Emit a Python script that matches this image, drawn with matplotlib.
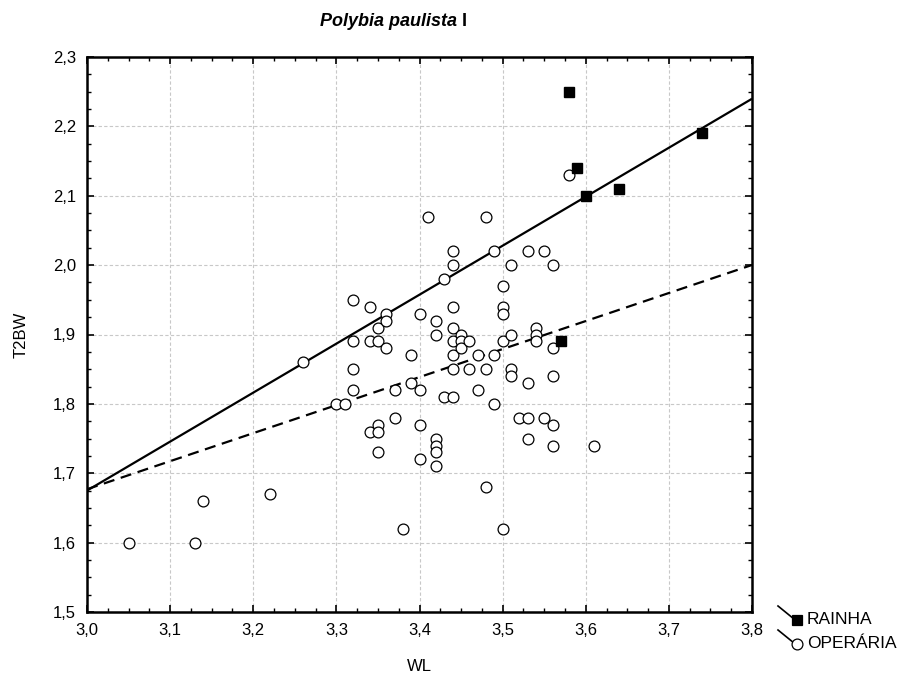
import numpy as np
import matplotlib
matplotlib.use("Agg")
import matplotlib.pyplot as plt
from matplotlib.ticker import MultipleLocator, FuncFormatter
from matplotlib.lines import Line2D

plt.rcParams['font.family'] = ['Liberation Sans', 'DejaVu Sans']

# Workers (OPERÁRIA): wing length (WL) vs T2BW
wl_operaria = [3.05, 3.13, 3.14, 3.22, 3.26, 3.30, 3.31, 3.32, 3.32, 3.32, 3.32,
               3.34, 3.34, 3.34, 3.35, 3.35, 3.35, 3.35, 3.35, 3.36, 3.36, 3.36,
               3.37, 3.37, 3.38, 3.39, 3.39, 3.40, 3.40, 3.40, 3.40, 3.41, 3.42,
               3.42, 3.42, 3.42, 3.42, 3.42, 3.43, 3.43, 3.44, 3.44, 3.44, 3.44,
               3.44, 3.44, 3.44, 3.44, 3.45, 3.45, 3.45, 3.46, 3.46, 3.47, 3.47,
               3.48, 3.48, 3.48, 3.49, 3.49, 3.49, 3.50, 3.50, 3.50, 3.50, 3.50,
               3.51, 3.51, 3.51, 3.51, 3.52, 3.53, 3.53, 3.53, 3.53, 3.54, 3.54,
               3.54, 3.55, 3.55, 3.56, 3.56, 3.56, 3.56, 3.56, 3.58, 3.61]
t2bw_operaria = [1.60, 1.60, 1.66, 1.67, 1.86, 1.80, 1.80, 1.95, 1.89, 1.85, 1.82,
                 1.94, 1.89, 1.76, 1.91, 1.89, 1.77, 1.76, 1.73, 1.93, 1.92, 1.88,
                 1.82, 1.78, 1.62, 1.87, 1.83, 1.93, 1.82, 1.77, 1.72, 2.07, 1.92,
                 1.90, 1.75, 1.74, 1.73, 1.71, 1.98, 1.81, 2.02, 2.00, 1.94, 1.91,
                 1.89, 1.87, 1.85, 1.81, 1.90, 1.89, 1.88, 1.89, 1.85, 1.87, 1.82,
                 2.07, 1.85, 1.68, 2.02, 1.87, 1.80, 1.97, 1.94, 1.93, 1.89, 1.62,
                 2.00, 1.90, 1.85, 1.84, 1.78, 2.02, 1.83, 1.78, 1.75, 1.91, 1.90,
                 1.89, 2.02, 1.78, 2.00, 1.88, 1.84, 1.77, 1.74, 2.13, 1.74]

# Queens (RAINHA)
wl_rainha = [3.57, 3.58, 3.59, 3.60, 3.64, 3.74]
t2bw_rainha = [1.89, 2.25, 2.14, 2.10, 2.11, 2.19]

# Regression lines: (intercept at WL = 3.0, slope)
fit_solid = (1.675, 0.706)
fit_dashed = (1.677, 0.404)

x_range = (3.0, 3.8)
y_range = (1.5, 2.3)

W, H = 923, 684
fig = plt.figure(figsize=(W / 100, H / 100), dpi=100)
ax = fig.add_axes([87 / W, 1 - 612 / H, (752 - 87) / W, (612 - 57) / H])

xs = np.array(x_range)
ax.plot(xs, fit_solid[0] + fit_solid[1] * (xs - 3.0), color='black', lw=1.6,
        solid_capstyle='butt', zorder=2)
ax.plot(xs, fit_dashed[0] + fit_dashed[1] * (xs - 3.0), color='black', lw=1.6,
        dashes=(5, 3), zorder=2)

ax.plot(wl_operaria, t2bw_operaria, linestyle='none', marker='o', ms=7.8,
        mfc='white', mec='black', mew=0.9, zorder=3)
ax.plot(wl_rainha, t2bw_rainha, linestyle='none', marker='s', ms=7.4,
        mfc='black', mec='black', zorder=4)

ax.set_xlim(*x_range)
ax.set_ylim(*y_range)
ax.xaxis.set_major_locator(MultipleLocator(0.1))
ax.xaxis.set_minor_locator(MultipleLocator(0.025))
ax.yaxis.set_major_locator(MultipleLocator(0.1))
ax.yaxis.set_minor_locator(MultipleLocator(0.025))
comma = FuncFormatter(lambda v, p: f"{v:.1f}".replace('.', ','))
ax.xaxis.set_major_formatter(comma)
ax.yaxis.set_major_formatter(comma)

ax.tick_params(which='both', direction='in', top=True, right=True,
               labelsize=12, color='black')
ax.tick_params(which='major', length=5, width=1.2, pad=8)
ax.tick_params(which='minor', length=3, width=1.0)
for s in ax.spines.values():
    s.set_linewidth(1.8)

ax.grid(True, which='major', color='#c8c8c8', linestyle=(0, (3, 2)), lw=0.8)
ax.set_axisbelow(True)

ax.set_xlabel('WL', fontsize=12, labelpad=15)
ax.set_ylabel('T2BW', fontsize=12, labelpad=17)

# Title: italic species name followed by an upright roman numeral
renderer = fig.canvas.get_renderer()
t_name = fig.text(0, 1 - 22 / H, 'Polybia paulista', fontsize=13,
                  fontweight='bold', style='italic', ha='left', va='center')
t_num = fig.text(0, 1 - 22 / H, 'I', fontsize=13, fontweight='bold',
                 ha='left', va='center')
w_name = t_name.get_window_extent(renderer).width
w_num = t_num.get_window_extent(renderer).width
gap = 5
x_start = 393 - (w_name + gap + w_num) / 2
t_name.set_x(x_start / W)
t_num.set_x((x_start + w_name + gap) / W)

# Legend outside the axes, lower right
def legend_entry(y_px, marker, mfc, label):
    x_m = 797
    fig.add_artist(Line2D([(x_m - 19) / W, (x_m - 3) / W],
                          [1 - (y_px - 14) / H, 1 - (y_px - 1) / H],
                          transform=fig.transFigure, color='black', lw=1.2))
    fig.add_artist(Line2D([x_m / W], [1 - y_px / H], transform=fig.transFigure,
                          marker=marker, ms=7.4 if marker == 's' else 7.8,
                          mfc=mfc, mec='black', mew=0.9, linestyle='none'))
    fig.text((x_m + 10) / W, 1 - y_px / H, label, fontsize=12.5,
             ha='left', va='center')

legend_entry(620, 's', 'black', 'RAINHA')
legend_entry(644, 'o', 'white', 'OPERÁRIA')

fig.savefig('out.png', dpi=100)
